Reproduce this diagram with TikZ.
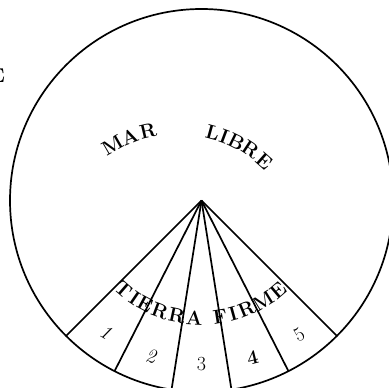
\documentclass[tikz,border=0pt]{standalone}
\usepackage{fontspec}
\tikzset{
  rim/.style={line width=1.7pt},
  numlabel/.style={inner sep=0pt, font=\fontsize{20}{20}\selectfont},
  letter/.style={inner sep=0pt, anchor=center, font=\fontsize{20}{20}\selectfont\bfseries},
}
\begin{document}
\begin{tikzpicture}[x=1pt,y=1pt]
\useasboundingbox (0,0) rectangle (389,388);
\clip (0,0) rectangle (389,388);
\coordinate (O) at (201.5,187.5);
\coordinate (T) at (178,129);
% outer circle
\draw[rim] (O) circle[radius=191.5];
% sector rays
\foreach \a/\n in {-135/r1,-117/r2,-99/r3,-81/r4,-63/r5,-45/r6}{
  \path (O) ++(\a:191.5) coordinate (\n);
  \draw[rim, line join=miter] (O) -- (\n);
}
% numbers
\path (O) ++(-126:163) node[numlabel, rotate=-30] (n1) {\itshape 1};
\path (O) ++(-108:164) node[numlabel, rotate=-12] (n2) {\itshape 2};
\path (O) ++(-90:164)  node[numlabel] (n3) {3};
\path (O) ++(-72:165)  node[numlabel, rotate=14, font=\fontsize{20}{20}\selectfont\bfseries] (n4) {4};
\path (O) ++(-54:166)  node[numlabel, rotate=30] (n5) {5};
% TIERRA FIRME, letter by letter on an arc round the apex
\foreach \ch/\ang [count=\i] in {T/-131,I/-124.5,E/-118.5,R/-110.5,R/-102,A/-93.5,F/-81,I/-74.5,R/-67.5,M/-58.5,E/-49.5}{
  \path (O) ++(\ang:118) node[letter, rotate=\ang+90] (tf\i) {\ch};
}
% MAR LIBRE, letter by letter on an arc
\foreach \ch/\ang [count=\i] in {M/120,A/111.6,R/103.2,L/74.6,I/69.4,B/63.6,R/56.4,E/48.5}{
  \path (T) ++(\ang:131) node[letter, rotate=\ang-90] (ml\i) {\ch};
}
% clipped letter at the left edge
\node[anchor=base east, inner sep=0pt, font=\fontsize{20}{20}\selectfont\bfseries] (e) at (5,305) {E};
\end{tikzpicture}
\end{document}
